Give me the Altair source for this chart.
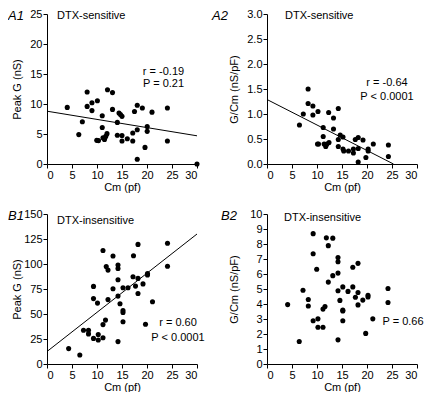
import altair as alt
import pandas as pd

FONT = "Liberation Sans"
W, H = 150, 150

# ---------------- data ----------------
x_ticks = [0, 5, 10, 15, 20, 25, 30]

# A1: DTX-sensitive, Peak G (nS) vs Cm (pF)
cm_a1 = [4.05, 6.36, 7.07, 8.03, 8.03, 8.99, 8.99, 10.08, 9.95, 10.3, 11.05, 11.05, 11.2, 11.5,
         11.75, 12.0, 12.1, 13.1, 13.1, 14.07, 14.07, 14.4, 14.7, 15.0, 15.0, 15.0, 16.06, 17.15,
         17.15, 17.5, 18.05, 18.05, 18.05, 19.07, 19.6, 20.04, 20.04, 21.0, 24.08, 24.08, 30.0]
g_a1 = [9.43, 4.9, 7.04, 12.0, 9.6, 10.2, 8.9, 10.55, 3.94, 3.9, 8.05, 6.08, 4.37, 4.1,
        4.6, 5.06, 12.37, 11.9, 9.1, 6.93, 4.8, 8.5, 8.26, 7.94, 4.74, 3.84, 4.2, 3.84,
        5.17, 8.74, 9.8, 5.7, 0.8, 9.33, 2.77, 6.24, 5.44, 8.64, 9.33, 3.84, 0.0]
fit_a1_x = [0, 30]
fit_a1_y = [8.8, 4.7]
stats_a1 = ["r = -0.19", "P = 0.21"]

# A2: DTX-sensitive, G/Cm (nS/pF) vs Cm
cm_a2 = [6.49, 7.26, 8.22, 8.22, 9.18, 9.18, 10.2, 10.1, 10.3, 11.24, 11.24, 11.43, 11.75, 12.0,
         12.33, 12.4, 13.3, 13.3, 14.26, 14.26, 14.26, 14.64, 15.2, 15.2, 15.35, 16.3, 17.28,
         17.28, 17.66, 18.24, 18.24, 18.24, 19.2, 19.78, 20.23, 20.23, 21.26, 24.28, 24.28]
gc_a2 = [0.78, 1.00, 1.50, 1.21, 1.16, 0.98, 1.05, 0.40, 0.40, 0.73, 0.55, 0.40, 0.35, 0.40,
         1.03, 0.43, 0.92, 0.70, 1.11, 0.49, 0.35, 0.58, 0.54, 0.30, 0.26, 0.26, 0.30,
         0.22, 0.49, 0.53, 0.31, 0.04, 0.48, 0.13, 0.30, 0.26, 0.40, 0.38, 0.15]
fit_a2_x = [0, 25.3]
fit_a2_y = [1.29, 0.0]
stats_a2 = ["r = -0.64", "P < 0.0001"]

# B1: DTX-insensitive, Peak G (nS) vs Cm
cm_b1 = [4.33, 6.56, 7.3, 8.3, 8.3, 9.3, 9.3, 9.3, 10.1, 10.25, 10.25, 11.2, 11.7, 11.2, 11.2,
         11.85, 12.2, 12.2, 13.2, 13.2, 14.2, 14.2, 14.2, 14.2, 14.2, 14.6, 15.2, 15.2, 15.2,
         15.2, 16.2, 17.3, 17.2, 18.2, 18.2, 18.2, 17.7, 19.2, 19.7, 20.1, 20.1, 21.1, 24.1, 24.1]
g_b1 = [15.4, 9.0, 33.7, 33.7, 30.1, 77.6, 65.4, 25.6, 60.9, 29.5, 24.0, 113.5, 43.9, 39.4, 26.3,
        97.4, 93.9, 64.4, 108.0, 75.3, 99.0, 95.5, 84.3, 67.9, 22.4, 60.3, 76.3, 53.5, 51.5,
        42.3, 76.3, 108.3, 87.2, 119.6, 85.6, 70.5, 77.9, 80.1, 39.7, 90.4, 89.1, 62.2, 120.8, 97.8]
fit_b1_x = [0, 30]
fit_b1_y = [12.5, 130.0]
stats_b1 = ["r = 0.60", "P < 0.0001"]

# B2: DTX-insensitive, G/Cm (nS/pF) vs Cm
cm_b2 = [4.13, 6.45, 7.2, 8.26, 8.26, 9.23, 9.23, 9.23, 9.94, 10.19, 10.19, 11.2, 11.2, 11.6,
         11.87, 12.26, 12.26, 13.16, 13.16, 14.2, 14.2, 14.2, 14.2, 14.2, 14.58, 15.16, 15.16,
         15.16, 15.16, 16.2, 17.16, 17.16, 17.68, 18.2, 18.2, 18.2, 19.16, 19.74, 20.2, 20.2,
         21.16, 24.2, 24.2]
gc_b2 = [3.96, 1.5, 4.92, 4.3, 3.87, 8.69, 7.35, 2.88, 6.32, 3.01, 2.45, 2.45, 3.66, 3.83,
         8.41, 7.89, 5.46, 8.39, 5.89, 7.1, 6.82, 6.06, 4.88, 1.61, 4.24, 5.14, 3.59,
         3.53, 2.88, 4.84, 6.45, 5.14, 4.45, 6.71, 4.77, 3.94, 4.26, 2.04, 4.58, 4.47,
         3.01, 5.03, 4.1]
stats_b2 = ["P = 0.66"]


# ---------------- panels ----------------
def panel(cm, vals, ydom, yvals, yfmt, ytitle, title_x, fit_x, fit_y, stats, stat_x, stat_y,
          tag, tag_x, sub, sub_x, sub_y):
    X = alt.X("Cm:Q", scale=alt.Scale(domain=[0, 30], nice=False),
              axis=alt.Axis(values=x_ticks, title="Cm (pf)", titleX=W / 2, titleY=23,
                            titleBaseline="middle", labelOverlap=False, tickCount=7))
    Y = alt.Y("V:Q", scale=alt.Scale(domain=ydom, nice=False),
              axis=alt.Axis(values=yvals, format=yfmt, title=ytitle, titleX=title_x,
                            titleY=H / 2, titleBaseline="middle", labelOverlap=False,
                            tickCount=len(yvals)))
    layers = []
    layers.append(
        alt.Chart(pd.DataFrame({"Cm": cm, "V": vals}))
        .mark_circle(size=26, color="black", opacity=1)
        .encode(x=X, y=Y)
    )
    if fit_x is not None:
        layers.append(
            alt.Chart(pd.DataFrame({"Cm": fit_x, "V": fit_y}))
            .mark_line(color="black", strokeWidth=1)
            .encode(x="Cm:Q", y="V:Q")
        )
    layers.append(
        alt.Chart(pd.DataFrame({"Cm": [stat_x] * len(stats), "V": stat_y, "t": stats}))
        .mark_text(align="center", baseline="middle", font=FONT, fontSize=11, color="black")
        .encode(x="Cm:Q", y="V:Q", text="t:N")
    )
    layers.append(
        alt.Chart(pd.DataFrame({"t": [tag]}))
        .mark_text(align="left", baseline="middle", font=FONT, fontSize=13,
                   fontStyle="italic", color="black")
        .encode(x=alt.value(tag_x), y=alt.value(2), text="t:N")
    )
    layers.append(
        alt.Chart(pd.DataFrame({"t": [sub]}))
        .mark_text(align="left", baseline="middle", font=FONT, fontSize=11, color="black")
        .encode(x=alt.value(sub_x), y=alt.value(sub_y), text="t:N")
    )
    return alt.layer(*layers).properties(width=W, height=H)


a1 = panel(cm_a1, g_a1, [0, 25], [0, 5, 10, 15, 20, 25], "d", "Peak G (nS)", -30,
           fit_a1_x, fit_a1_y, stats_a1, 23.3, [15.4, 13.3],
           "A1", -39, "DTX-sensitive", 10, 2)
a2 = panel(cm_a2, gc_a2, [0, 3], [0, 0.5, 1.0, 1.5, 2.0, 2.5, 3.0], ".1f", "G/Cm (nS/pF)", -33,
           fit_a2_x, fit_a2_y, stats_a2, 24.0, [1.63, 1.35],
           "A2", -55, "DTX-sensitive", 18, 2)
b1 = panel(cm_b1, g_b1, [0, 150], [0, 25, 50, 75, 100, 125, 150], "d", "Peak G (nS)", -30,
           fit_b1_x, fit_b1_y, stats_b1, 26.2, [41.0, 25.8],
           "B1", -39, "DTX-insensitive", 10, 7)
b2 = panel(cm_b2, gc_b2, [0, 10], list(range(0, 11)), "d", "G/Cm (nS/pF)", -33,
           None, None, stats_b2, 27.2, [2.8],
           "B2", -46, "DTX-insensitive", 17, 4)

chart = (
    alt.concat(a1, a2, b1, b2, columns=2, spacing={"row": 50, "column": 70}, bounds="flush")
    .properties(padding=0)
    .configure_view(stroke=None)
    .configure_axis(
        domainColor="black", tickColor="black", labelColor="black", titleColor="black",
        labelFont=FONT, titleFont=FONT, labelFontSize=11, titleFontSize=11,
        titleFontWeight="normal", tickSize=4, labelPadding=1, grid=False,
        domainWidth=1, tickWidth=1, labelOverlap=False,
    )
)

chart.save("out.html", embed_options={"renderer": "svg", "actions": False})
